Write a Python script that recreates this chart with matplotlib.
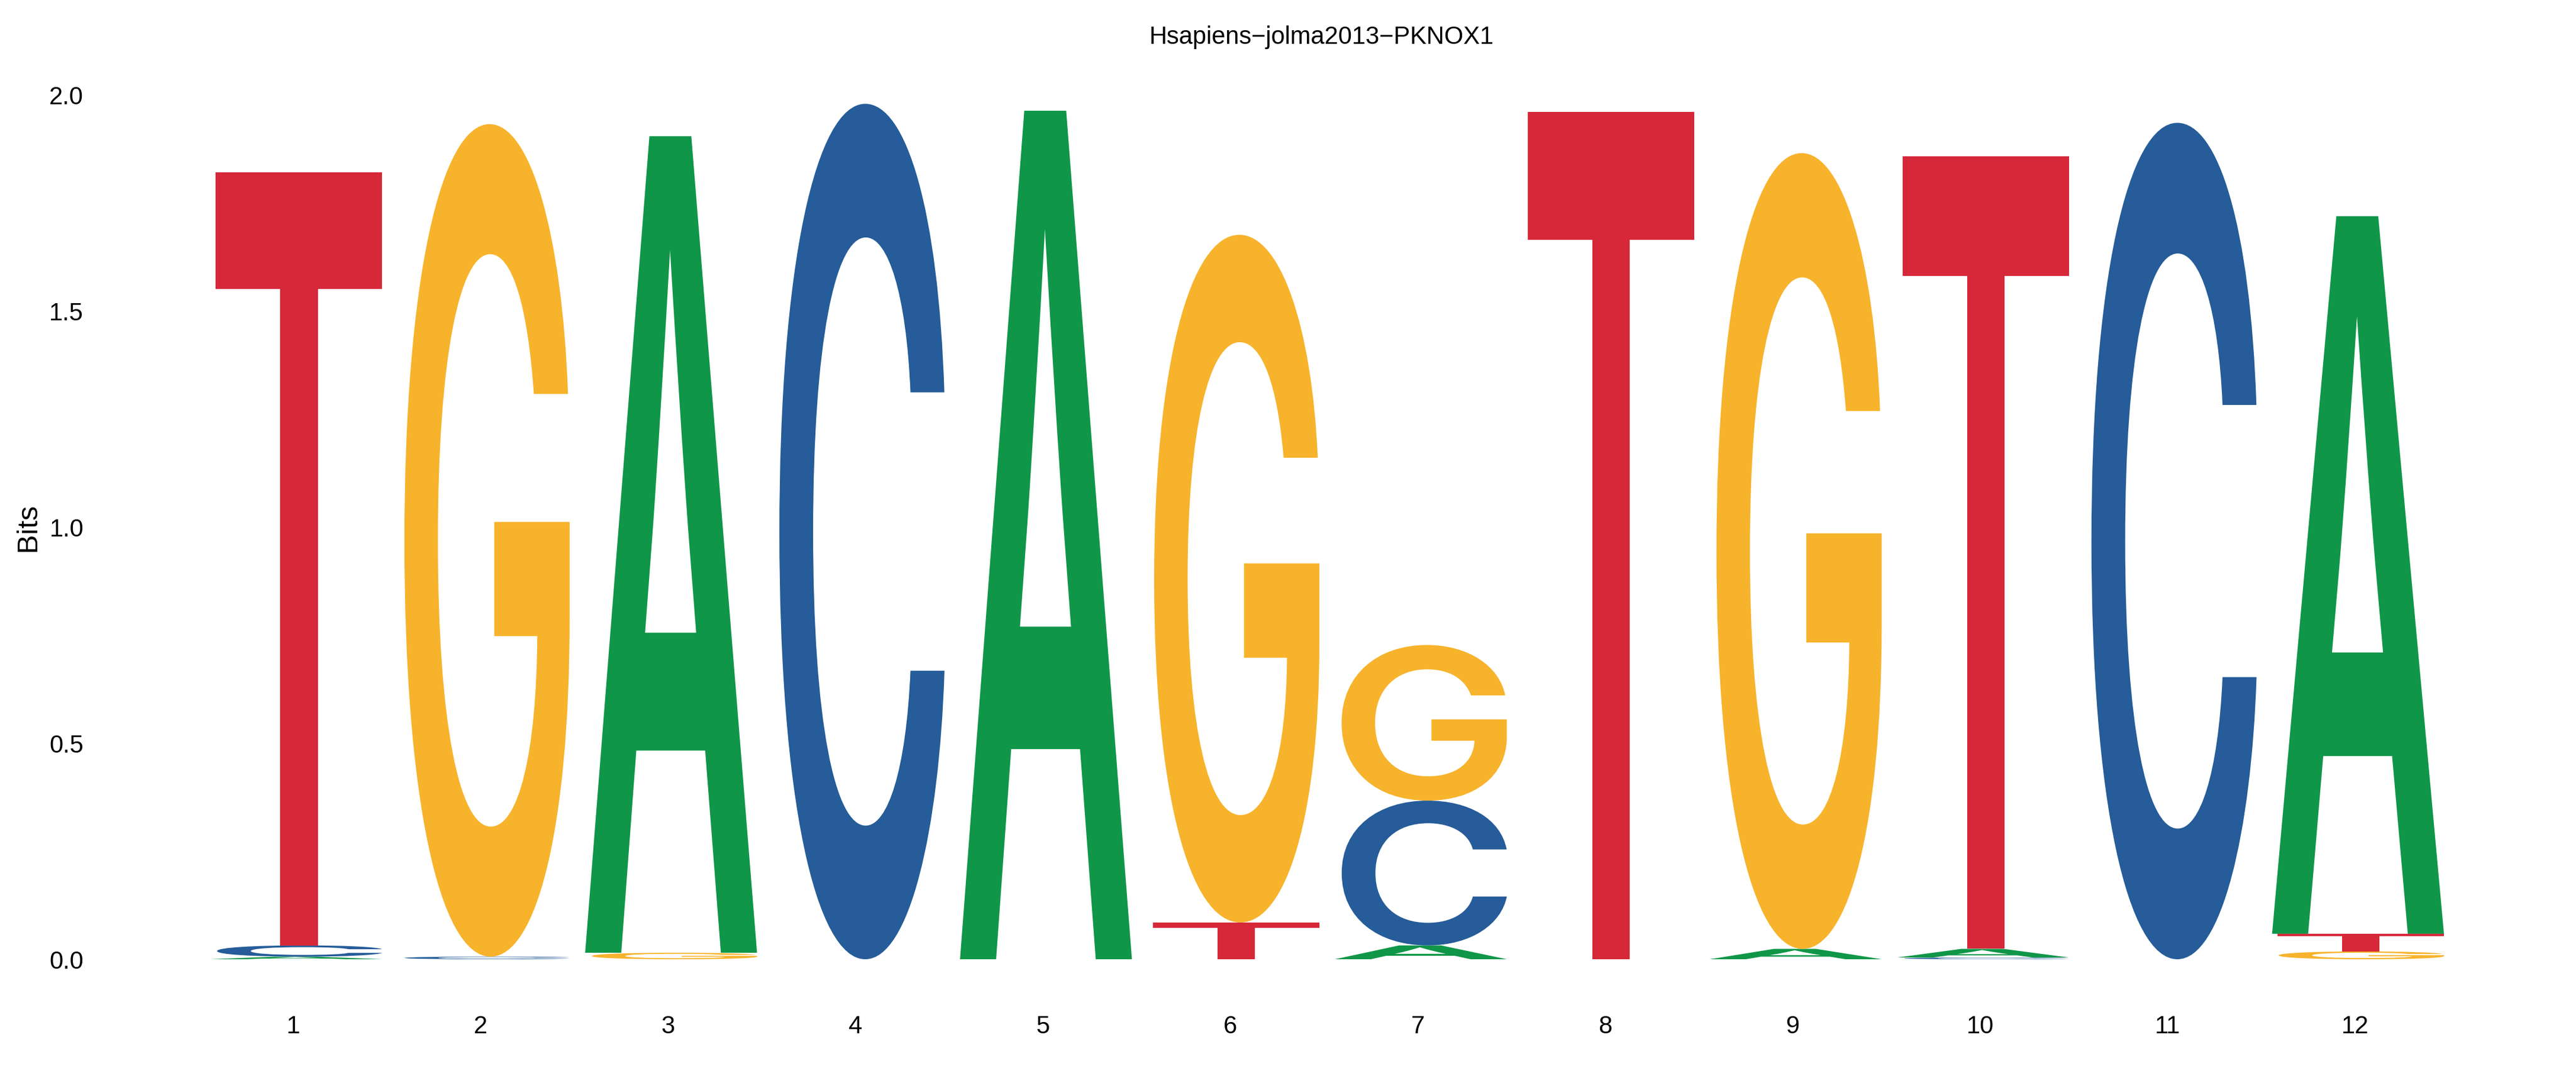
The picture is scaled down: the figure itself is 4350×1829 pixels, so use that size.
import numpy as np
import matplotlib
matplotlib.use("Agg")
import matplotlib.pyplot as plt
from matplotlib.textpath import TextPath
from matplotlib.font_manager import FontProperties
from matplotlib.patches import PathPatch
from matplotlib.transforms import Affine2D

# ---- datos del logo (bits por posición y base) ----
positions = np.arange(1, 13)
bits_A = [0.006, 0.0, 1.889, 0.0, 1.963, 0.0, 0.032, 0.0, 0.024, 0.020, 0.0, 1.660]
bits_C = [0.026, 0.006, 0.0, 1.979, 0.0, 0.0, 0.335, 0.0, 0.0, 0.004, 1.935, 0.0]
bits_G = [0.0, 1.926, 0.015, 0.0, 0.0, 1.591, 0.360, 0.0, 1.841, 0.0, 0.0, 0.018]
bits_T = [1.788, 0.0, 0.0, 0.0, 0.0, 0.085, 0.0, 1.960, 0.0, 1.834, 0.0, 0.041]

ytick_vals = [0.0, 0.5, 1.0, 1.5, 2.0]
ytick_labels = ["0.0", "0.5", "1.0", "1.5", "2.0"]
title = "Hsapiens\u2212jolma2013\u2212PKNOX1"

COLORS = {"A": "#109648", "C": "#255C99", "G": "#F7B32B", "T": "#D62839"}
LETTER_W = 0.95
FS = 30

plt.rcParams["font.family"] = ["Liberation Sans", "DejaVu Sans"]

letter_font = FontProperties(family="Inter", weight="semibold")
_paths = {}


def letter_path(ch):
    """Path del glifo normalizado a la caja unidad."""
    if ch not in _paths:
        p = TextPath((0, 0), ch, size=1, prop=letter_font)
        v = p.vertices
        x0, y0 = v.min(axis=0)
        x1, y1 = v.max(axis=0)
        t = Affine2D().translate(-x0, -y0).scale(1 / (x1 - x0), 1 / (y1 - y0))
        _paths[ch] = t.transform_path(p)
    return _paths[ch]


def draw_letter(ax, ch, xc, y0, h):
    t = Affine2D().scale(LETTER_W, h).translate(xc - LETTER_W / 2, y0)
    path = t.transform_path(letter_path(ch))
    ax.add_patch(PathPatch(path, facecolor=COLORS[ch], edgecolor="none",
                           lw=0, clip_on=False))


fig = plt.figure(figsize=(43.5, 18.29), dpi=100)
ax = fig.add_axes([0.07014, 0.11427, 0.8877, 0.79825])

table = {"A": bits_A, "C": bits_C, "G": bits_G, "T": bits_T}
for i, x in enumerate(positions):
    col = sorted(((table[b][i], b) for b in "ACGT"), key=lambda t: t[0])
    y = 0.0
    for h, b in col:
        if h <= 0:
            continue
        draw_letter(ax, b, x, y, h)
        y += h

ax.set_xlim(0.4, 12.6)
ax.set_ylim(0, 2.0)
for s in ax.spines.values():
    s.set_visible(False)

ax.set_xticks(positions)
ax.set_xticklabels([str(p) for p in positions], fontsize=FS, color="black")
ax.set_yticks(ytick_vals)
ax.set_yticklabels(ytick_labels, fontsize=FS, color="black")
ax.tick_params(axis="x", length=0, pad=68)
ax.tick_params(axis="y", length=0, pad=118)

ax.set_ylabel("Bits", fontsize=35)
ax.yaxis.set_label_coords(-0.061, 0.5)

fig.text(0.513, 1 - 63 / 1829, title, fontsize=FS, ha="center", va="center")

fig.savefig("out.png", dpi=100, facecolor="white")
